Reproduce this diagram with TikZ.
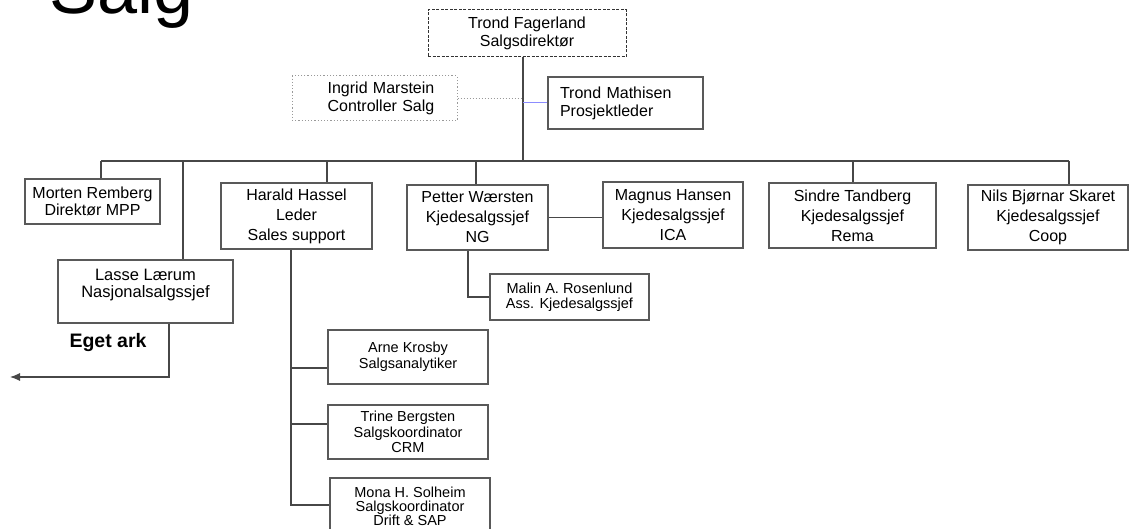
\documentclass[tikz,border=0pt]{standalone}
\usepackage{fontspec}
\setmainfont{Liberation Sans}
\usetikzlibrary{arrows.meta}
\begin{document}
\begin{tikzpicture}[x=1pt,y=-1pt,
  conn/.style={draw=black!72,line width=1.1pt},
  box/.style={draw=black!65,line width=1.2pt,fill=white,align=center,inner sep=0pt,
    font=\fontsize{16}{20}\selectfont},
  twoline/.style={box,font=\fontsize{16}{18}\selectfont},
  smallbox/.style={box,minimum width=160pt,font=\fontsize{14.5}{15.5}\selectfont},
]
\useasboundingbox (0,0) rectangle (1129,529);
\clip (0,0) rectangle (1129,529);

% title
\node[anchor=base west,inner sep=0pt,font=\fontsize{72}{80}\selectfont] (title) at (49,14) {Salg};

% top
\node[twoline,draw=black!80,dash pattern=on 3pt off 1.5pt,line width=1pt,minimum width=198pt,minimum height=47pt] (fag) at (527,33.5) {Trond Fagerland\\Salgsdirektør};
\node[twoline,draw=black!40,dotted,line width=1pt,text width=165pt,minimum height=45pt] (ing) at (374.5,98.5) {\hspace*{13pt}Ingrid Marstein\\\hspace*{13pt}Controller Salg};
\node[twoline,align=left,text width=131pt,inner xsep=12pt,minimum height=52pt] (mat) at (625.5,103) {Trond Mathisen\\Prosjektleder};

% second level
\node[box,font=\fontsize{16}{16.5}\selectfont,minimum width=135pt,minimum height=45pt] (mor) at (92.5,201.5) {Morten Remberg\\Direktør MPP};
\node[box,font=\fontsize{16.5}{17}\selectfont,minimum width=175pt,minimum height=63pt] (las) at (145.5,291.5) {Lasse Lærum\\Nasjonalsalgssjef\\\mbox{}};
\node[box,minimum width=151pt,minimum height=66pt] (har) at (296.5,216) {Harald Hassel\\Leder\\Sales support};
\node[box,minimum width=141pt,minimum height=65pt] (pet) at (477.5,217.5) {Petter Wærsten\\Kjedesalgssjef\\NG};
\node[box,minimum width=140pt,minimum height=66pt] (mag) at (673,215) {Magnus Hansen\\Kjedesalgssjef\\ICA};
\node[box,minimum width=167pt,minimum height=65pt] (sin) at (852.5,215.5) {Sindre Tandberg\\Kjedesalgssjef\\Rema};
\node[box,minimum width=160pt,minimum height=65pt] (nil) at (1048,217.5) {Nils Bjørnar Skaret\\Kjedesalgssjef\\Coop};

% lower level
\node[smallbox,minimum width=159pt,minimum height=46pt,font=\fontsize{14.5}{15}\selectfont] (mal) at (569.5,297) {Malin A. Rosenlund\\Ass. Kjedesalgssjef};
\node[smallbox,minimum height=54pt,font=\fontsize{14.5}{16}\selectfont] (arn) at (408,357) {Arne Krosby\\Salgsanalytiker};
\node[smallbox,minimum height=54pt] (tri) at (408,432) {Trine Bergsten\\Salgskoordinator\\CRM};
\node[smallbox,minimum height=57pt,font=\fontsize{14.5}{14}\selectfont] (mon) at (410,506.5) {Mona H. Solheim\\Salgskoordinator\\Drift \& SAP};

\node[inner sep=0pt,font=\fontsize{19.5}{22}\selectfont\bfseries] (eget) at (108,342) {Eget ark};

% coordinates
\coordinate (trunk) at (523,161);
\coordinate (busL) at (101,161);
\coordinate (busR) at (1069,161);
\coordinate (lasX) at (183,161);
\coordinate (harX) at (327,161);
\coordinate (petX) at (476,161);
\coordinate (sinX) at (853,161);
\coordinate (hx) at (291,505);
\coordinate (px) at (468,297);
\coordinate (lx) at (169,377);
\coordinate (arrowEnd) at (10,377);

% connectors
\draw[conn] (trunk |- fag.south) -- (trunk);
\draw[draw=black!40,dotted,line width=1pt] (ing.east) -- (ing.east -| trunk);
\draw[draw=blue!45,line width=1pt] (mat.west) -- (mat.west -| trunk);
\draw[conn] (busL) -- (busR);
\draw[conn] (busL) -- (busL |- mor.north);
\draw[conn] (lasX) -- (lasX |- las.north);
\draw[conn] (harX) -- (harX |- har.north);
\draw[conn] (petX) -- (petX |- pet.north);
\draw[conn] (sinX) -- (sinX |- sin.north);
\draw[conn] (busR) -- (busR |- nil.north);
\draw[conn] (pet.east) -- (pet.east -| mag.west);
\draw[conn] (px |- pet.south) -- (px) -- (px -| mal.west);
\draw[conn] (hx |- har.south) -- (hx) -- (hx -| mon.west);
\draw[conn] (291,368) -- (291,368 -| arn.west);
\draw[conn] (291,424) -- (291,424 -| tri.west);
\draw[conn,-{Latex[length=10pt,width=8pt]}] (lx |- las.south) -- (lx) -- (arrowEnd);
\end{tikzpicture}
\end{document}
